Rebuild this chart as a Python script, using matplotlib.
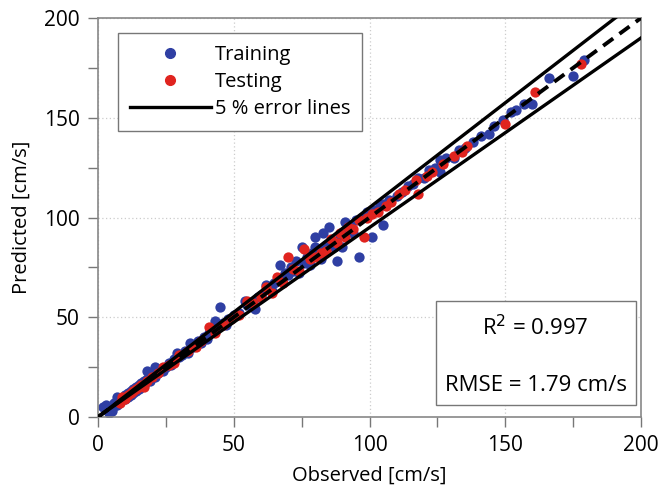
import matplotlib
matplotlib.use('Agg')
import matplotlib.pyplot as plt
import numpy as np
from matplotlib.lines import Line2D
from matplotlib.ticker import MultipleLocator

plt.rcParams['font.family'] = ['Open Sans', 'DejaVu Sans']

# training data (observed, predicted) in cm/s
train_obs = [2, 3, 4, 5, 5, 6, 7, 7, 8, 9, 10, 10, 11, 11, 12, 12, 13, 13, 14, 14,
             15, 15, 16, 16, 17, 17, 18, 18, 19, 20, 21, 21, 22, 23, 24, 25, 26, 27, 28, 29,
             30, 31, 32, 33, 34, 35, 36, 37, 38, 39, 40, 41, 42, 43, 44, 45, 46, 47, 48, 50,
             52, 54, 55, 57, 58, 59, 60, 62, 63, 64, 65, 66, 67, 68, 69, 70, 71, 72, 73, 74,
             75, 76, 77, 78, 79, 80, 80, 81, 82, 83, 84, 85, 86, 87, 88, 89, 90, 91, 92, 93,
             94, 95, 96, 97, 99, 100, 101, 102, 104, 105, 105, 107, 110, 112, 114, 116, 118, 120, 122, 124,
             126, 126, 128, 131, 133, 135, 138, 141, 144, 146, 149, 152, 154, 157, 160, 166, 175, 179]
train_pred = [5, 6, 2, 4, 3, 7, 10, 6, 8, 9, 11, 9, 12, 10, 13, 11, 12, 14, 15, 13,
              16, 14, 15, 17, 18, 16, 23, 19, 18, 21, 25, 20, 22, 24, 23, 25, 27, 26, 29, 32,
              30, 31, 33, 32, 37, 35, 36, 38, 37, 40, 39, 42, 43, 48, 45, 55, 47, 46, 49, 51,
              52, 58, 56, 55, 54, 60, 61, 66, 64, 63, 67, 68, 76, 70, 72, 71, 75, 73, 78, 72,
              85, 77, 80, 76, 82, 90, 85, 84, 79, 92, 86, 95, 88, 85, 78, 91, 85, 98, 93, 95,
              92, 99, 80, 100, 103, 102, 90, 104, 106, 96, 107, 109, 111, 113, 116, 117, 120, 120, 124, 125,
              129, 123, 130, 130, 134, 135, 138, 141, 142, 146, 149, 153, 154, 157, 157, 170, 171, 179]

# testing data (observed, predicted) in cm/s
test_obs = [8, 9, 10, 11, 12, 13, 14, 15, 16, 17, 18, 20, 22, 24, 26, 28, 30, 33, 36, 38,
            41, 43, 46, 49, 52, 55, 57, 60, 62, 64, 66, 68, 70, 72, 74, 76, 78, 80, 82, 84,
            86, 88, 89, 91, 92, 94, 96, 98, 99, 101, 103, 106, 108, 111, 113, 117, 118, 121, 123, 127,
            131, 134, 136, 150, 161, 178]
test_pred = [7, 10, 9, 11, 12, 13, 14, 15, 16, 15, 18, 20, 22, 25, 26, 27, 31, 33, 35, 38,
             45, 42, 46, 49, 51, 58, 57, 60, 65, 62, 70, 67, 80, 74, 73, 84, 79, 80, 82, 83,
             89, 87, 92, 90, 95, 94, 99, 90, 100, 102, 103, 106, 108, 112, 114, 119, 112, 121, 123, 127,
             131, 133, 136, 147, 163, 177]

r2_text = 'R$^2$ = 0.997'
rmse_text = 'RMSE = 1.79 cm/s'

fig = plt.figure(figsize=(6.59, 4.92), dpi=100)
ax = fig.add_axes([0.1487, 0.1524, 0.824, 0.8110])

blue = '#2f3fa3'
red = '#e0241f'
ax.scatter(train_obs, train_pred, s=55, color=blue, zorder=2, linewidths=0)
ax.scatter(test_obs, test_pred, s=55, color=red, zorder=3, linewidths=0)

xx = np.array([0, 200])
ax.plot(xx, xx, color='black', lw=2.8, ls=(0, (3.2, 2)), zorder=4)
ax.plot(xx, 1.05 * xx, color='black', lw=2.4, zorder=4)
ax.plot(xx, 0.95 * xx, color='black', lw=2.4, zorder=4)

ax.set_xlim(0, 200)
ax.set_ylim(0, 200)
ax.xaxis.set_major_locator(MultipleLocator(50))
ax.yaxis.set_major_locator(MultipleLocator(50))
ax.xaxis.set_minor_locator(MultipleLocator(25))
ax.yaxis.set_minor_locator(MultipleLocator(25))
ax.tick_params(which='both', direction='out', length=7, width=1, color='#777777',
               labelsize=15, pad=6)
ax.grid(True, which='major', ls=(0, (1, 2)), color='#cccccc', lw=0.9)
ax.set_axisbelow(True)
for sp in ax.spines.values():
    sp.set_color('#888888')
    sp.set_linewidth(1.2)

ax.set_xlabel('Observed [cm/s]', fontsize=14.5, labelpad=7)
ax.set_ylabel('Predicted [cm/s]', fontsize=14.5, labelpad=9)

handles = [Line2D([], [], ls='none', marker='o', color=blue, markersize=7),
           Line2D([], [], ls='none', marker='o', color=red, markersize=7),
           Line2D([], [], color='black', lw=2.4)]
leg = ax.legend(handles, ['Training', 'Testing', '5 % error lines'],
                loc='upper left', bbox_to_anchor=(0.037, 0.963), fontsize=14.5,
                frameon=True, fancybox=False, edgecolor='#777777', framealpha=1,
                handlelength=4.0, handletextpad=0.2, borderpad=0.6, labelspacing=0.35,
                borderaxespad=0)
leg.get_frame().set_linewidth(1.0)

ax.add_patch(plt.Rectangle((0.6225, 0.03), 0.368, 0.26, transform=ax.transAxes,
                           facecolor='white', edgecolor='#777777', lw=1.0, zorder=5))
ax.text(0.806, 0.225, r2_text, transform=ax.transAxes, ha='center', va='center',
        fontsize=16, zorder=6)
ax.text(0.806, 0.08, rmse_text, transform=ax.transAxes, ha='center', va='center',
        fontsize=16, zorder=6)

fig.savefig('out.png', dpi=100)
